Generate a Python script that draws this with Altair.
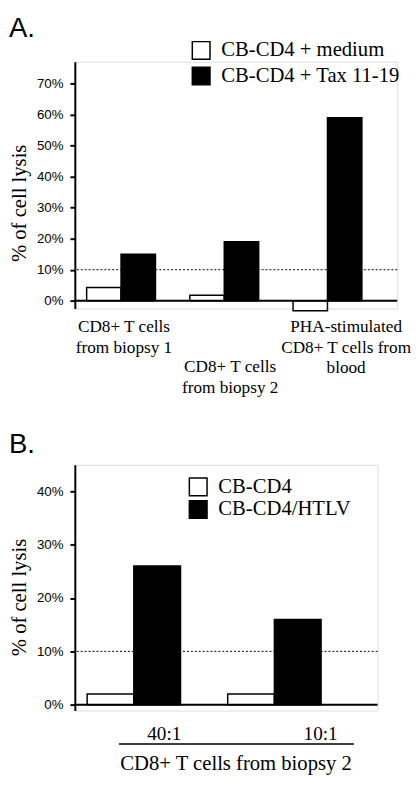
import altair as alt
import pandas as pd

SANS = "Liberation Sans, Arial, Helvetica, sans-serif"
SERIF = "Liberation Serif, Times New Roman, Times, serif"

# ---------------- data ----------------
panel_tags = ["A.", "B."]
y_title = "% of cell lysis"
threshold = [10]

a_groups = ["biopsy 1", "biopsy 2", "blood"]
a_group_labels = [
    "CD8+ T cells\nfrom biopsy 1",
    "CD8+ T cells\nfrom biopsy 2",
    "PHA-stimulated\nCD8+ T cells from\nblood",
]
a_series = ["CB-CD4 + medium", "CB-CD4 + Tax 11-19"]
a_medium = [4.3, 1.8, -3.2]
a_tax = [15.0, 19.0, 59.0]
a_ticks = [0, 10, 20, 30, 40, 50, 60, 70]

b_groups = ["40:1", "10:1"]
b_series = ["CB-CD4", "CB-CD4/HTLV"]
b_ctrl = [2.0, 2.0]
b_htlv = [26.0, 16.0]
b_ticks = [0, 10, 20, 30, 40]
b_caption = ["CD8+ T cells from biopsy 2"]

FILLS = ["white", "black"]


def y_axis(ticks):
    return alt.Axis(
        values=ticks, tickCount=len(ticks), labelExpr="datum.value + '%'",
        labelFont=SANS, labelFontSize=13.5, labelColor="black", labelPadding=7,
        labelOverlap=False, labelFlush=False, labelBound=False,
        tickSize=5, tickWidth=2, tickColor="black",
        domainColor="black", domainWidth=2, grid=False, title=None,
    )


def legend(x, y, row_pad):
    return alt.Legend(
        title=None, orient="none", legendX=x, legendY=y,
        symbolType="square", symbolSize=324, symbolStrokeColor="black",
        symbolStrokeWidth=1.5, labelFont=SERIF, labelFontSize=21,
        labelColor="black", labelOffset=10, rowPadding=row_pad,
        padding=0, labelLimit=0,
    )


def panel(groups, series, s1, s2, ydom, ticks, title_y, xrange, pad_inner,
          leg_x, leg_y, leg_pad, tag, tag_y):
    rows = []
    for g, v1, v2 in zip(groups, s1, s2):
        rows.append({"group": g, "series": series[0], "value": v1})
        rows.append({"group": g, "series": series[1], "value": v2})
    df = pd.DataFrame(rows)
    yscale = alt.Scale(domain=ydom, nice=False, zero=False)
    yax = y_axis(ticks)
    xenc = alt.X("group:N", sort=groups, axis=None,
                 scale=alt.Scale(range=xrange, paddingInner=pad_inner, paddingOuter=0))
    bars = alt.Chart(df).mark_bar(stroke="black", strokeWidth=1.5).encode(
        x=xenc,
        xOffset=alt.XOffset("series:N", sort=series,
                            scale=alt.Scale(paddingInner=0, paddingOuter=0)),
        y=alt.Y("value:Q", scale=yscale, axis=yax),
        y2=alt.datum(0),
        fill=alt.Fill("series:N", sort=series,
                      scale=alt.Scale(domain=series, range=FILLS),
                      legend=legend(leg_x, leg_y, leg_pad)),
    )
    thr = alt.Chart(pd.DataFrame({"value": threshold})).mark_rule(
        color="black", strokeWidth=1, strokeDash=[2, 2]
    ).encode(y=alt.Y("value:Q", scale=yscale, axis=yax))
    zero = alt.Chart(pd.DataFrame({"value": [0]})).mark_rule(
        color="black", strokeWidth=2
    ).encode(y=alt.Y("value:Q", scale=yscale, axis=yax))
    tagc = alt.Chart(pd.DataFrame({"t": [tag]})).mark_text(
        font=SANS, fontSize=28, align="left", baseline="alphabetic", color="black"
    ).encode(text="t:N", x=alt.value(-67), y=alt.value(tag_y))
    ytitle = alt.Chart(pd.DataFrame({"t": [y_title]})).mark_text(
        font=SERIF, fontSize=21, angle=270, align="center", baseline="middle",
        color="black"
    ).encode(text="t:N", x=alt.value(-56), y=alt.value(title_y))
    return [bars, thr, zero, tagc, ytitle]


# ---------------- panel A ----------------
layersA = panel(a_groups, a_series, a_medium, a_tax, [-2.5, 77], a_ticks, 144,
                [12, 292], 1 / 3, 118, -22, 1, panel_tags[0], -25)
a_dx = [3, 6, 19]
a_y = [275, 316, 275]
for g, lab, dx, yy in zip(a_groups, a_group_labels, a_dx, a_y):
    layersA.append(
        alt.Chart(pd.DataFrame({"group": [g], "label": [lab]})).mark_text(
            font=SERIF, fontSize=17.5, lineBreak="\n", lineHeight=21,
            align="center", baseline="alphabetic", dx=dx, color="black"
        ).encode(x=alt.X("group:N", sort=a_groups, axis=None), text="label:N",
                 y=alt.value(yy))
    )
chartA = alt.layer(*layersA).properties(width=328, height=251)

# ---------------- panel B ----------------
layersB = panel(b_groups, b_series, b_ctrl, b_htlv, [-1.1, 45], b_ticks, 135,
                [12.5, 250.5], 48 / 143, 115, 12, -3, panel_tags[1], -12)
b_dx = [31, 47]
for g, dx in zip(b_groups, b_dx):
    layersB.append(
        alt.Chart(pd.DataFrame({"group": [g]})).mark_text(
            font=SERIF, fontSize=19.5, align="center", baseline="alphabetic",
            dx=dx, color="black"
        ).encode(x=alt.X("group:N", sort=b_groups, axis=None), text="group:N",
                 y=alt.value(280))
    )
layersB.append(
    alt.Chart(pd.DataFrame({"c": b_caption})).mark_rule(color="black", strokeWidth=1.5)
    .encode(x=alt.value(45), x2=alt.value(284), y=alt.value(284))
)
layersB.append(
    alt.Chart(pd.DataFrame({"c": b_caption})).mark_text(
        font=SERIF, fontSize=21, align="center", baseline="alphabetic", color="black"
    ).encode(text="c:N", x=alt.value(164), y=alt.value(311))
)
chartB = alt.layer(*layersB).properties(width=308, height=250)

chart = alt.vconcat(chartA, chartB, spacing=159, bounds="flush").resolve_scale(
    x="independent", y="independent", xOffset="independent", fill="independent"
).resolve_legend(fill="independent").properties(
    padding=0
).configure_view(stroke=None).configure(background="white")

chart.save("out.html", embed_options={"renderer": "svg", "actions": False})
